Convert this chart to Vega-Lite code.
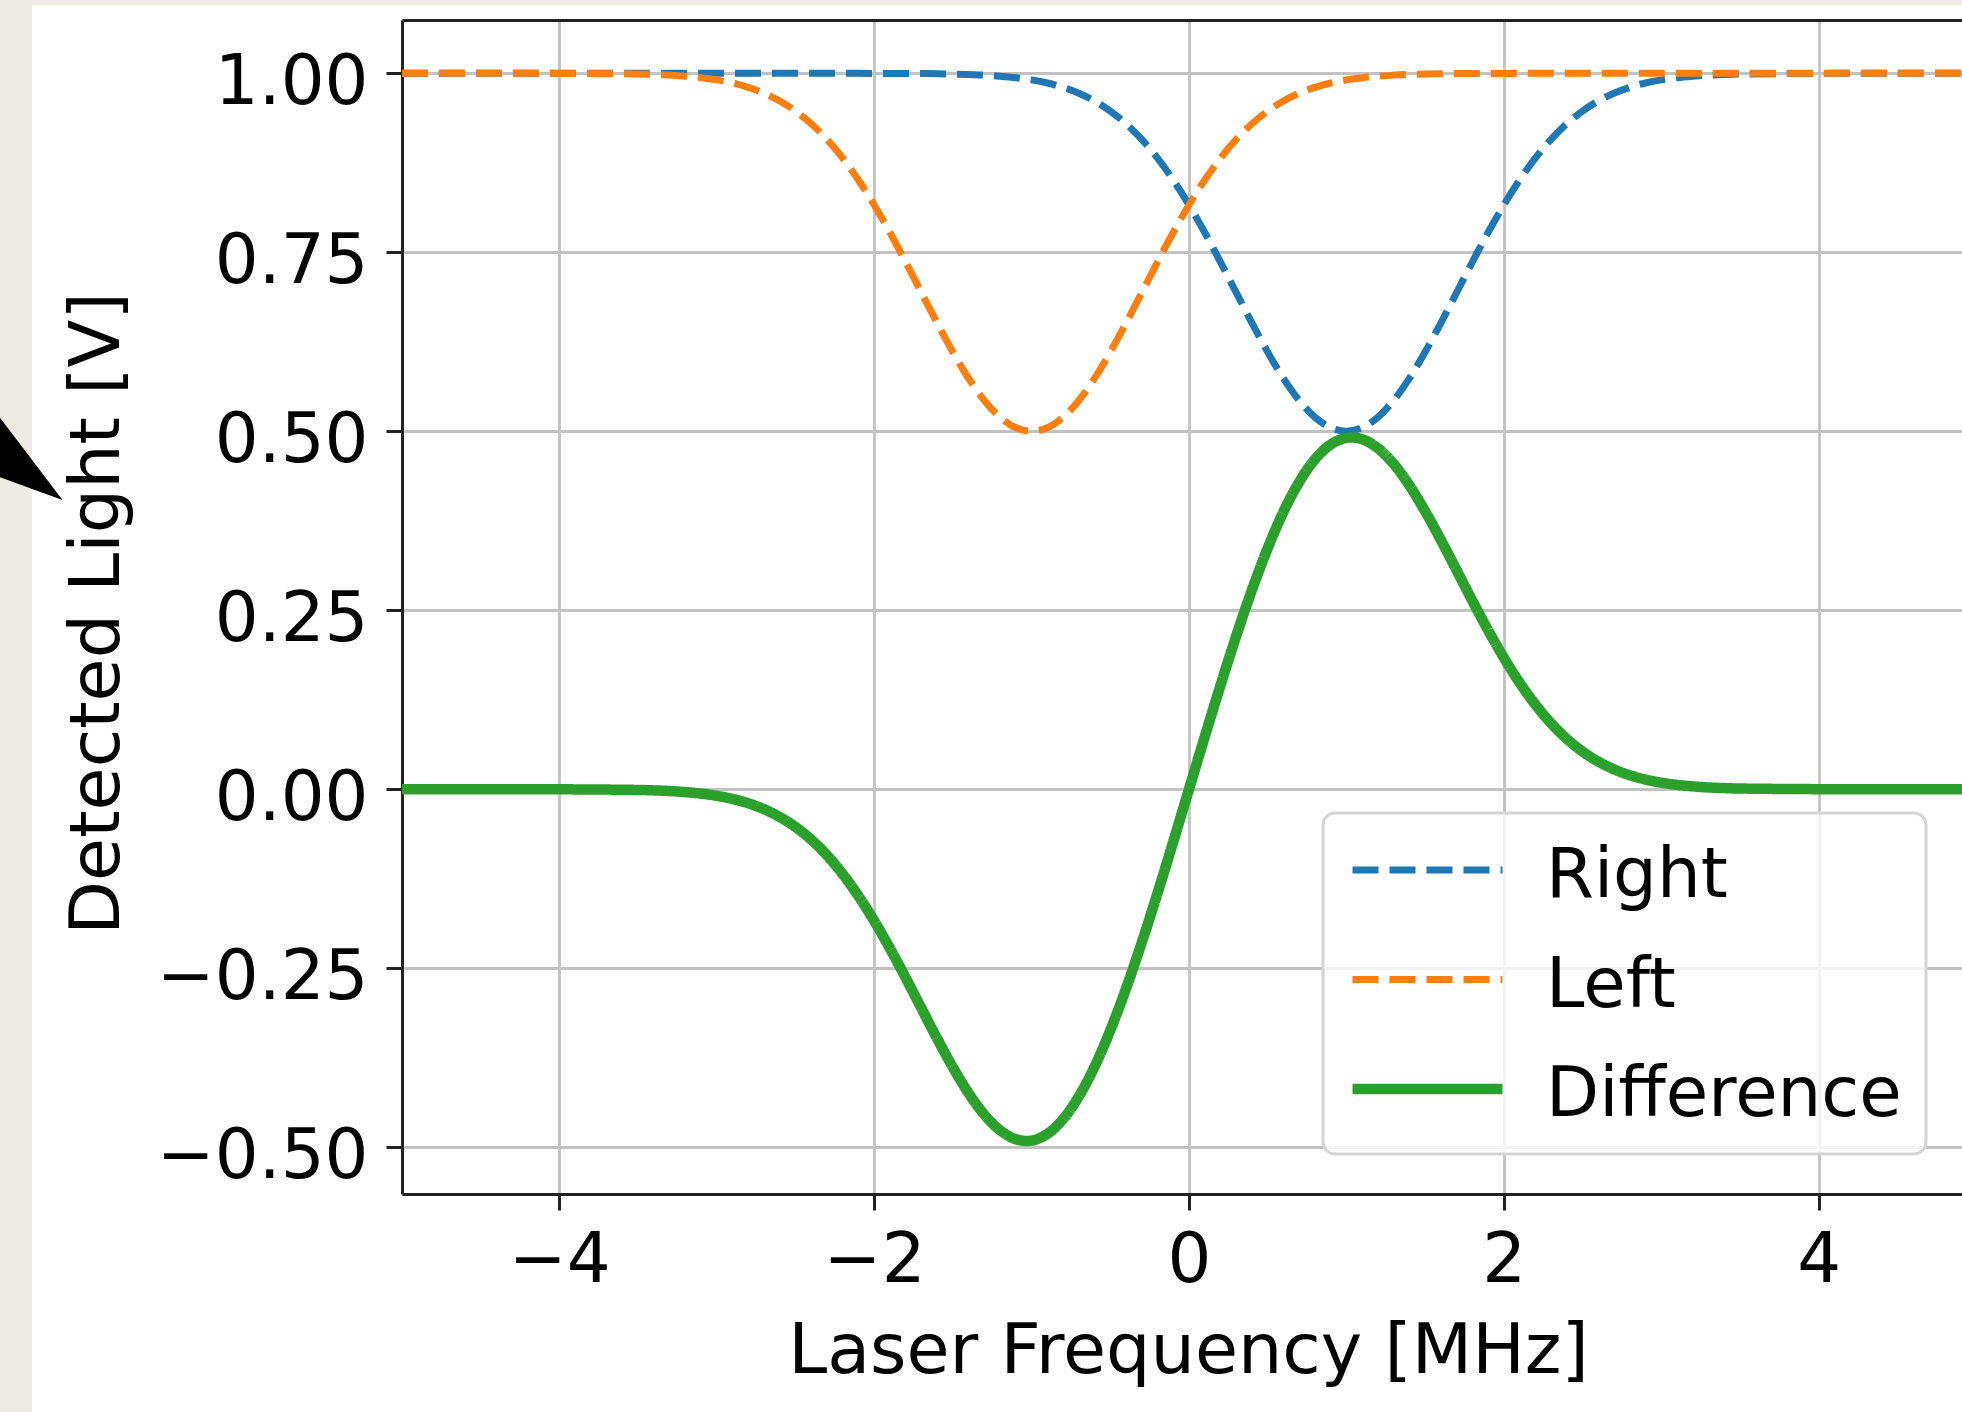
{
  "$schema": "https://vega.github.io/schema/vega-lite/v6.json",
  "width": 1560,
  "height": 1174,
  "autosize": {"type": "none"},
  "padding": {"left": 402, "top": 20, "right": 0, "bottom": 218},
  "background": "white",
  "config": {
    "font": "DejaVu Sans",
    "view": {"stroke": null},
    "axis": {
      "labelFont": "DejaVu Sans",
      "titleFont": "DejaVu Sans",
      "labelFontSize": 69,
      "titleFontSize": 70,
      "labelColor": "#000000",
      "titleColor": "#000000",
      "titleFontWeight": "normal",
      "labelLimit": 1000,
      "tickColor": "#222222",
      "tickWidth": 3,
      "tickSize": 16,
      "domainColor": "#222222",
      "domainWidth": 3,
      "gridColor": "#c2c2c2",
      "gridWidth": 2.8,
      "labelOverlap": false,
      "labelFlush": false,
      "labelBound": false
    }
  },
  "layer": [
    {
      "data": {
        "values": [
          {"x": -5, "Right": 1, "Left": 1, "Difference": 0},
          {"x": -4.5, "Right": 1, "Left": 1, "Difference": 0},
          {"x": -4, "Right": 1, "Left": 0.9999, "Difference": -0.0001},
          {"x": -3.5, "Right": 1, "Left": 0.999, "Difference": -0.001},
          {"x": -3.4, "Right": 1, "Left": 0.9984, "Difference": -0.0016},
          {"x": -3.3, "Right": 1, "Left": 0.9975, "Difference": -0.0025},
          {"x": -3.2, "Right": 1, "Left": 0.996, "Difference": -0.004},
          {"x": -3.1, "Right": 1, "Left": 0.9939, "Difference": -0.0061},
          {"x": -3.0, "Right": 1, "Left": 0.9908, "Difference": -0.0092},
          {"x": -2.9, "Right": 1, "Left": 0.9865, "Difference": -0.0135},
          {"x": -2.8, "Right": 1, "Left": 0.9804, "Difference": -0.0196},
          {"x": -2.7, "Right": 1, "Left": 0.9722, "Difference": -0.0278},
          {"x": -2.6, "Right": 1, "Left": 0.9614, "Difference": -0.0387},
          {"x": -2.5, "Right": 1, "Left": 0.9473, "Difference": -0.0527},
          {"x": -2.4, "Right": 1, "Left": 0.9296, "Difference": -0.0704},
          {"x": -2.3, "Right": 1, "Left": 0.9077, "Difference": -0.0923},
          {"x": -2.2, "Right": 1, "Left": 0.8815, "Difference": -0.1185},
          {"x": -2.1, "Right": 1, "Left": 0.8509, "Difference": -0.1491},
          {"x": -2.0, "Right": 0.9999, "Left": 0.8161, "Difference": -0.1839},
          {"x": -1.9, "Right": 0.9999, "Left": 0.7776, "Difference": -0.2223},
          {"x": -1.8, "Right": 0.9998, "Left": 0.7364, "Difference": -0.2634},
          {"x": -1.7, "Right": 0.9997, "Left": 0.6937, "Difference": -0.306},
          {"x": -1.6, "Right": 0.9994, "Left": 0.6512, "Difference": -0.3483},
          {"x": -1.5, "Right": 0.999, "Left": 0.6106, "Difference": -0.3884},
          {"x": -1.4, "Right": 0.9984, "Left": 0.5739, "Difference": -0.4245},
          {"x": -1.3, "Right": 0.9975, "Left": 0.543, "Difference": -0.4545},
          {"x": -1.2, "Right": 0.996, "Left": 0.5196, "Difference": -0.4764},
          {"x": -1.1, "Right": 0.9939, "Left": 0.505, "Difference": -0.4889},
          {"x": -1.0, "Right": 0.9908, "Left": 0.5, "Difference": -0.4908},
          {"x": -0.9, "Right": 0.9865, "Left": 0.505, "Difference": -0.4815},
          {"x": -0.8, "Right": 0.9804, "Left": 0.5196, "Difference": -0.4608},
          {"x": -0.7, "Right": 0.9722, "Left": 0.543, "Difference": -0.4292},
          {"x": -0.6, "Right": 0.9614, "Left": 0.5739, "Difference": -0.3875},
          {"x": -0.5, "Right": 0.9473, "Left": 0.6106, "Difference": -0.3367},
          {"x": -0.4, "Right": 0.9296, "Left": 0.6512, "Difference": -0.2784},
          {"x": -0.3, "Right": 0.9077, "Left": 0.6937, "Difference": -0.214},
          {"x": -0.2, "Right": 0.8815, "Left": 0.7364, "Difference": -0.1451},
          {"x": -0.1, "Right": 0.8509, "Left": 0.7776, "Difference": -0.0733},
          {"x": 0.0, "Right": 0.8161, "Left": 0.8161, "Difference": 0},
          {"x": 0.1, "Right": 0.7776, "Left": 0.8509, "Difference": 0.0733},
          {"x": 0.2, "Right": 0.7364, "Left": 0.8815, "Difference": 0.1451},
          {"x": 0.3, "Right": 0.6937, "Left": 0.9077, "Difference": 0.214},
          {"x": 0.4, "Right": 0.6512, "Left": 0.9296, "Difference": 0.2784},
          {"x": 0.5, "Right": 0.6106, "Left": 0.9473, "Difference": 0.3367},
          {"x": 0.6, "Right": 0.5739, "Left": 0.9614, "Difference": 0.3875},
          {"x": 0.7, "Right": 0.543, "Left": 0.9722, "Difference": 0.4292},
          {"x": 0.8, "Right": 0.5196, "Left": 0.9804, "Difference": 0.4608},
          {"x": 0.9, "Right": 0.505, "Left": 0.9865, "Difference": 0.4815},
          {"x": 1.0, "Right": 0.5, "Left": 0.9908, "Difference": 0.4908},
          {"x": 1.1, "Right": 0.505, "Left": 0.9939, "Difference": 0.4889},
          {"x": 1.2, "Right": 0.5196, "Left": 0.996, "Difference": 0.4764},
          {"x": 1.3, "Right": 0.543, "Left": 0.9975, "Difference": 0.4545},
          {"x": 1.4, "Right": 0.5739, "Left": 0.9984, "Difference": 0.4245},
          {"x": 1.5, "Right": 0.6106, "Left": 0.999, "Difference": 0.3884},
          {"x": 1.6, "Right": 0.6512, "Left": 0.9994, "Difference": 0.3483},
          {"x": 1.7, "Right": 0.6937, "Left": 0.9997, "Difference": 0.306},
          {"x": 1.8, "Right": 0.7364, "Left": 0.9998, "Difference": 0.2634},
          {"x": 1.9, "Right": 0.7776, "Left": 0.9999, "Difference": 0.2223},
          {"x": 2.0, "Right": 0.8161, "Left": 0.9999, "Difference": 0.1839},
          {"x": 2.1, "Right": 0.8509, "Left": 1, "Difference": 0.1491},
          {"x": 2.2, "Right": 0.8815, "Left": 1, "Difference": 0.1185},
          {"x": 2.3, "Right": 0.9077, "Left": 1, "Difference": 0.0923},
          {"x": 2.4, "Right": 0.9296, "Left": 1, "Difference": 0.0704},
          {"x": 2.5, "Right": 0.9473, "Left": 1, "Difference": 0.0527},
          {"x": 2.6, "Right": 0.9614, "Left": 1, "Difference": 0.0387},
          {"x": 2.7, "Right": 0.9722, "Left": 1, "Difference": 0.0278},
          {"x": 2.8, "Right": 0.9804, "Left": 1, "Difference": 0.0196},
          {"x": 2.9, "Right": 0.9865, "Left": 1, "Difference": 0.0135},
          {"x": 3.0, "Right": 0.9908, "Left": 1, "Difference": 0.0092},
          {"x": 3.1, "Right": 0.9939, "Left": 1, "Difference": 0.0061},
          {"x": 3.2, "Right": 0.996, "Left": 1, "Difference": 0.004},
          {"x": 3.3, "Right": 0.9975, "Left": 1, "Difference": 0.0025},
          {"x": 3.4, "Right": 0.9984, "Left": 1, "Difference": 0.0016},
          {"x": 3.5, "Right": 0.999, "Left": 1, "Difference": 0.001},
          {"x": 4.0, "Right": 0.9999, "Left": 1, "Difference": 0.0001},
          {"x": 4.5, "Right": 1, "Left": 1, "Difference": 0},
          {"x": 5.0, "Right": 1, "Left": 1, "Difference": 0}
        ]
      },
      "transform": [{"fold": ["Right", "Left", "Difference"], "as": ["series", "value"]}],
      "mark": {"type": "line", "interpolate": "catmull-rom", "clip": true, "strokeJoin": "round"},
      "encoding": {
        "x": {
          "field": "x",
          "type": "quantitative",
          "scale": {"domain": [-5, 4.911], "nice": false, "zero": false},
          "axis": {
            "orient": "bottom",
            "values": [-4, -2, 0, 2, 4],
            "format": "d",
            "grid": true,
            "labelPadding": 16,
            "title": "Laser Frequency [MHz]",
            "titleX": 786,
            "titleY": 123,
            "titleBaseline": "top",
            "titleAnchor": "middle",
            "titleAlign": "center"
          }
        },
        "y": {
          "field": "value",
          "type": "quantitative",
          "scale": {"domain": [-0.5654, 1.0745], "nice": false, "zero": false},
          "axis": {
            "values": [-0.5, -0.25, 0, 0.25, 0.5, 0.75, 1],
            "format": ".2f",
            "grid": true,
            "labelPadding": 18,
            "labelOffset": 9,
            "title": "Detected Light [V]",
            "titleX": -284,
            "titleY": 593,
            "titleAngle": -90,
            "titleAlign": "center",
            "titleBaseline": "alphabetic"
          }
        },
        "color": {
          "field": "series",
          "type": "nominal",
          "scale": {"domain": ["Right", "Left", "Difference"], "range": ["#1f77b4", "#ff7f0e", "#2ca02c"]},
          "legend": {
            "title": null,
            "orient": "none",
            "legendX": 921,
            "legendY": 793,
            "labelFont": "DejaVu Sans",
            "labelFontSize": 69,
            "labelColor": "#000000",
            "labelLimit": 1000,
            "labelOffset": 38,
            "symbolSize": 22500,
            "clipHeight": 66,
            "rowPadding": 35.5,
            "padding": 24,
            "fillColor": "rgba(255,255,255,0.8)",
            "strokeColor": "#d4d4d4",
            "cornerRadius": 12,
            "encode": {
              "legend": {"update": {"strokeWidth": {"value": 3}}},
              "labels": {"update": {"dy": {"value": 6}}}
            }
          }
        },
        "strokeDash": {
          "field": "series",
          "type": "nominal",
          "scale": {"domain": ["Right", "Left", "Difference"], "range": [[26, 11], [26, 11], [1, 0]]}
        },
        "strokeWidth": {
          "field": "series",
          "type": "nominal",
          "scale": {"type": "ordinal", "domain": ["Right", "Left", "Difference"], "range": [7, 7, 10.5]}
        }
      }
    },
    {
      "data": {"values": [{}]},
      "mark": {"type": "rect", "fill": "#eeebe5", "stroke": null},
      "encoding": {
        "x": {"datum": -7.7, "axis": null, "scale": {"domain": [-5, 4.911], "nice": false, "zero": false}},
        "x2": {"datum": -7.351},
        "y": {
          "datum": -0.9,
          "scale": {"domain": [-0.5654, 1.0745], "nice": false, "zero": false},
          "axis": {
            "values": [-0.5, -0.25, 0, 0.25, 0.5, 0.75, 1],
            "format": ".2f",
            "grid": true,
            "labelPadding": 18,
            "labelOffset": 9,
            "title": "Detected Light [V]",
            "titleX": -284,
            "titleY": 593,
            "titleAngle": -90,
            "titleAlign": "center",
            "titleBaseline": "alphabetic"
          }
        },
        "y2": {"datum": 1.2}
      }
    },
    {
      "data": {"values": [{}]},
      "mark": {"type": "rect", "fill": "#eeebe5", "stroke": null},
      "encoding": {
        "x": {"datum": -7.7, "axis": null, "scale": {"domain": [-5, 4.911], "nice": false, "zero": false}},
        "x2": {"datum": 6},
        "y": {
          "datum": 1.0955,
          "scale": {"domain": [-0.5654, 1.0745], "nice": false, "zero": false},
          "axis": {
            "values": [-0.5, -0.25, 0, 0.25, 0.5, 0.75, 1],
            "format": ".2f",
            "grid": true,
            "labelPadding": 18,
            "labelOffset": 9,
            "title": "Detected Light [V]",
            "titleX": -284,
            "titleY": 593,
            "titleAngle": -90,
            "titleAlign": "center",
            "titleBaseline": "alphabetic"
          }
        },
        "y2": {"datum": 1.2}
      }
    },
    {
      "data": {"values": [{}]},
      "mark": {"type": "point", "shape": "M0,0L-1,-1.317L-1,-0.365Z", "filled": true, "fill": "#000000", "opacity": 1, "strokeWidth": 0, "size": 40000},
      "encoding": {
        "x": {
          "datum": -7.157,
          "scale": {"domain": [-5, 4.911], "nice": false, "zero": false},
          "axis": {"orient": "top", "labels": false, "ticks": false, "grid": false, "domain": true, "title": null}
        },
        "y": {
          "datum": 0.404,
          "scale": {"domain": [-0.5654, 1.0745], "nice": false, "zero": false},
          "axis": {
            "values": [-0.5, -0.25, 0, 0.25, 0.5, 0.75, 1],
            "format": ".2f",
            "grid": true,
            "labelPadding": 18,
            "labelOffset": 9,
            "title": "Detected Light [V]",
            "titleX": -284,
            "titleY": 593,
            "titleAngle": -90,
            "titleAlign": "center",
            "titleBaseline": "alphabetic"
          }
        }
      }
    }
  ],
  "resolve": {"axis": {"x": "independent"}}
}
